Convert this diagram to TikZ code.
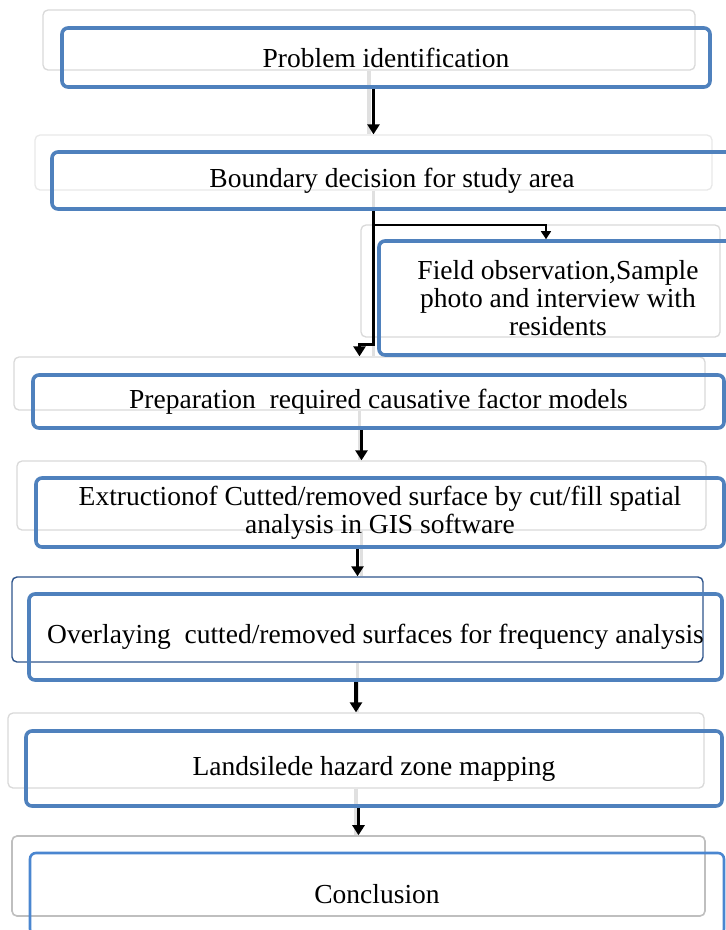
\documentclass[tikz,border=0pt]{standalone}
\usepackage{fontspec}
\setmainfont{Liberation Serif}
\usetikzlibrary{arrows.meta,calc}
\definecolor{accblue}{RGB}{79,129,189}
\definecolor{shadowgray}{RGB}{217,217,217}
\definecolor{darkblue}{RGB}{47,85,140}
\definecolor{lightblue}{RGB}{74,134,208}
\begin{document}
\begin{tikzpicture}[x=1pt,y=-1pt,
  graybox/.style={draw=shadowgray,line width=1.3pt,rounded corners=5pt,inner sep=0pt},
  bluebox/.style={draw=accblue,line width=3.6pt,rounded corners=6pt,inner sep=0pt,align=center,
    font=\fontsize{27.5}{28}\selectfont},
  gline/.style={draw=black!12,line width=3.5pt},
  arr/.style={draw=black,line width=3.6pt,-{Triangle[length=10pt,width=12pt]}},
  thinarr/.style={draw=black,line width=1.4pt,-{Triangle[length=8pt,width=10pt]}}]
\clip (0,0) rectangle (726,930);
\fill[white] (0,0) rectangle (726,930);
% background (gray) boxes
\node[graybox,minimum width=652pt,minimum height=60pt] (g1) at (369,40) {};
\node[graybox,minimum width=677pt,minimum height=55pt,draw=shadowgray!60] (g2) at (373.5,162.5) {};
\node[graybox,minimum width=359pt,minimum height=112pt] (g3) at (540.5,281) {};
\node[graybox,minimum width=691pt,minimum height=53pt] (g4) at (359.5,383.5) {};
\node[graybox,minimum width=689pt,minimum height=69pt] (g5) at (361.5,495.5) {};
\node[graybox,minimum width=691pt,minimum height=85pt,draw=darkblue,line width=1.4pt] (g6) at (357.5,619.5) {};
\node[graybox,minimum width=696pt,minimum height=75pt] (g7) at (356,750.5) {};
\node[graybox,minimum width=693pt,minimum height=80pt,draw=black!25,line width=1.6pt] (g8) at (358.5,876) {};
% faint connectors between background boxes
\draw[gline] (g1.south) -- (g1.south |- g2.north);
\draw[gline] (g2.south) -- (g2.south |- g4.north);
\draw[gline] (g4.south) -- (g4.south |- g5.north);
\draw[gline] (g5.south) -- (g5.south |- g6.north);
\draw[gline] (g6.south) -- (g6.south |- g7.north);
\draw[gline] (g7.south) -- (g7.south |- g8.north);
% foreground boxes
\node[bluebox,minimum width=648pt,minimum height=59pt] (b1) at (386,57.5) {Problem identification};
\node[bluebox,minimum width=680pt,minimum height=57pt] (b2) at (392,180.5) {Boundary decision for study area};
\node[bluebox,minimum width=358pt,minimum height=114pt] (b3) at (558,298) {Field observation,Sample\\photo and interview with\\residents};
\node[bluebox,minimum width=691pt,minimum height=53pt] (b4) at (378.5,401.5) {Preparation\ \ required causative factor models};
\node[bluebox,minimum width=688pt,minimum height=69pt] (b5) at (380,512.5) {Extructionof Cutted/removed surface by cut/fill spatial\\analysis in GIS software};
\node[bluebox,minimum width=693pt,minimum height=86pt] (b6) at (375.5,637) {Overlaying\ \ cutted/removed surfaces for frequency analysis};
\node[bluebox,minimum width=696pt,minimum height=75pt] (b7) at (374,768.5) {Landsilede hazard zone mapping};
\node[bluebox,minimum width=694pt,minimum height=82pt,draw=lightblue,line width=2.6pt] (b8) at (377,894) {Conclusion};
% arrows
\draw[arr] (b1.south -| g2.north) -- (g2.north);
\coordinate (br) at ($(b2.south -| g2.north)+(0,14)$);
\draw[thinarr] (br) -| ([xshift=-12pt]b3.north);
\draw[arr] (b2.south -| g2.north) |- ($(g4.north)+(0,-12)$) -- (g4.north);
\draw[arr] (b4.south -| g5.north) -- (g5.north);
\draw[arr] (b5.south -| g6.north) -- (g6.north);
\draw[arr] (b6.south -| g7.north) -- (g7.north);
\draw[arr] (b7.south -| g8.north) -- (g8.north);
\end{tikzpicture}
\end{document}
